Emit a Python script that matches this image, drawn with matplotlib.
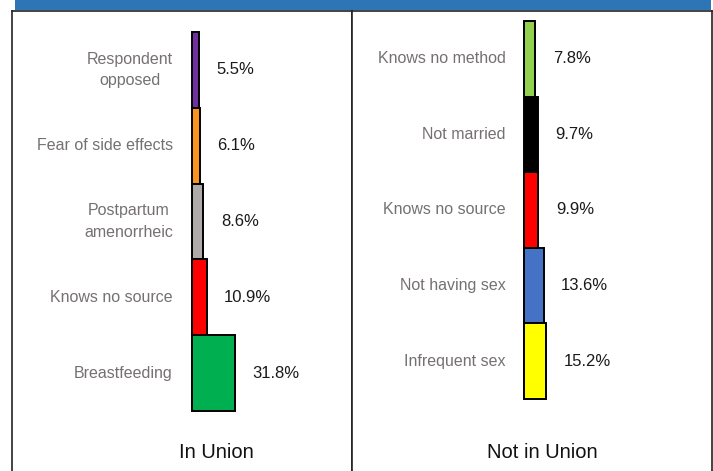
import matplotlib
matplotlib.use("Agg")
import matplotlib.pyplot as plt
from matplotlib import font_manager
from matplotlib.patches import Rectangle

# ---- data ----
in_union_labels = ["Respondent\nopposed", "Fear of side effects", "Postpartum\namenorrheic",
                   "Knows no source", "Breastfeeding"]
in_union_values = [5.5, 6.1, 8.6, 10.9, 31.8]
in_union_colors = ["#7030A0", "#F7941D", "#AEAAAA", "#FF0000", "#00B050"]

not_union_labels = ["Knows no method", "Not married", "Knows no source",
                    "Not having sex", "Infrequent sex"]
not_union_values = [7.8, 9.7, 9.9, 13.6, 15.2]
not_union_colors = ["#92D050", "#000000", "#FF0000", "#4472C4", "#FFFF00"]

W, H = 713, 471
REG = ["Liberation Sans", "DejaVu Sans"]
# the reference uses a condensed face for the category labels; use one if it exists
_installed = {f.name for f in font_manager.fontManager.ttflist}
if "Liberation Sans Narrow" in _installed:
    CAT_FONT, CAT_SIZE, CAT_LS = ["Liberation Sans Narrow", "DejaVu Sans"], 13, 1.35
else:
    CAT_FONT, CAT_SIZE, CAT_LS = REG, 11.5, 1.55

fig = plt.figure(figsize=(W / 100, H / 100), dpi=100)

# blue banner along the top (title is cut off in the reference)
fig.patches.append(Rectangle((15 / W, 1 - 10 / H), 696 / W, 10 / H, transform=fig.transFigure,
                             facecolor="#2E75B6", edgecolor="none", zorder=0))


def panel(x0, x1, bar_x, px_per_pct, seg_top, seg_h, labels, values, colors, title, title_x):
    # axes spans the whole boxed panel (extends a bit below the canvas, like the reference)
    top_px, bot_px = 11, H + 10
    ax = fig.add_axes([x0 / W, 1 - bot_px / H, (x1 - x0) / W, (bot_px - top_px) / H])
    ax.set_xlim(-(bar_x - x0) / px_per_pct, (x1 - bar_x) / px_per_pct)
    ax.set_ylim(-0.5 + (bot_px - seg_top) / seg_h, -0.5 - (seg_top - top_px) / seg_h)
    ypos = list(range(len(values)))
    ax.barh(ypos, values, height=1.0, left=0, color=colors, edgecolor="black", linewidth=1.4)
    for y, v, lab in zip(ypos, values, labels):
        ax.annotate(f"{v}%", xy=(v, y), xytext=(12.5, 0), textcoords="offset points",
                    ha="left", va="center", fontsize=12, color="#1a1a1a", family=REG)
        ax.annotate(lab, xy=(0, y), xytext=(-13.5, 0), textcoords="offset points",
                    ha="right", va="center", multialignment="center", fontsize=CAT_SIZE,
                    color="#767171", family=CAT_FONT, linespacing=CAT_LS)
    ax.text((title_x - x0) / (x1 - x0), 1 - (452 - top_px) / (bot_px - top_px), title,
            transform=ax.transAxes, ha="center", va="center", fontsize=14.5,
            color="#111111", family=REG)
    ax.set_xticks([]); ax.set_yticks([])
    for s in ax.spines.values():
        s.set_color("#222222"); s.set_linewidth(1.2)
    return ax


panel(12, 352, 191.7, 1.36, 32, 75.8, in_union_labels, in_union_values, in_union_colors,
      "In Union", 216)
panel(352, 711.5, 524.3, 1.43, 21, 75.6, not_union_labels, not_union_values, not_union_colors,
      "Not in Union", 542)

fig.savefig("out.png", dpi=100)
